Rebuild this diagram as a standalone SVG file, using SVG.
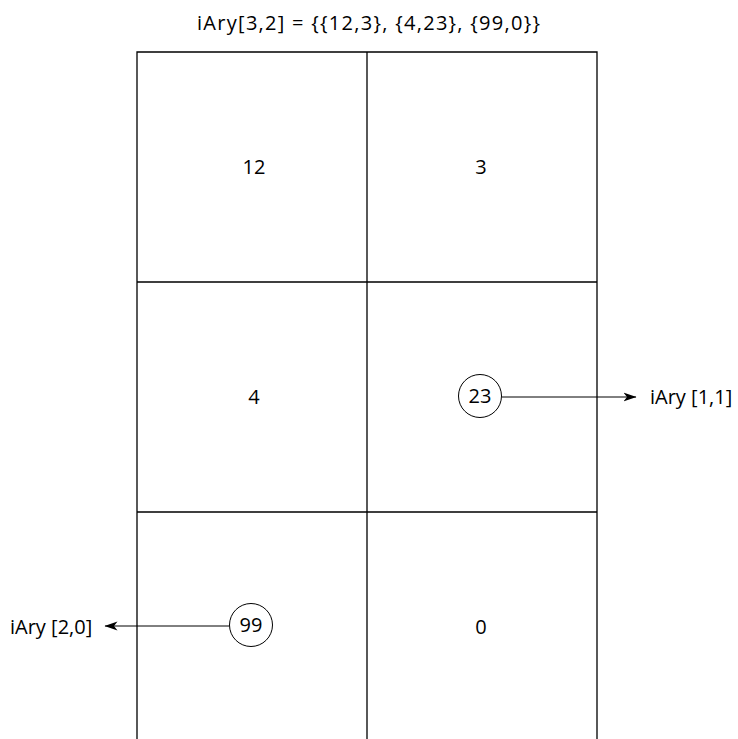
<svg xmlns="http://www.w3.org/2000/svg" width="738" height="739" viewBox="0 0 738 739">
<defs>
<style>
.t{font-family:"Open Sans","Liberation Sans",sans-serif;font-size:20px;fill:#000}
.g{stroke:#000;stroke-width:1.3;fill:none}
.c{stroke:#000;stroke-width:1;fill:#fff}
.e{stroke:#000;stroke-width:1;fill:none}
</style>
<marker id="ah" markerWidth="14" markerHeight="10" refX="12.5" refY="5" orient="auto" markerUnits="userSpaceOnUse">
<path d="M0,0.5 L13,5 L0,9.5 L3.5,5 Z" fill="#000"/>
</marker>
</defs>
<rect width="738" height="739" fill="#fff"/>
<g id="title"><text class="t" x="197" y="30" font-size="19" textLength="343" lengthAdjust="spacing">iAry[3,2] = {{12,3}, {4,23}, {99,0}}</text></g>
<g id="grid">
<path class="g" d="M137,739 V52 H597 V739 M367,52 V739 M137,282 H597 M137,512 H597"/>
</g>
<g id="cell-12"><text class="t" x="254" y="174" text-anchor="middle">12</text></g>
<g id="cell-3"><text class="t" x="481" y="174" text-anchor="middle">3</text></g>
<g id="cell-4"><text class="t" x="254" y="404" text-anchor="middle">4</text></g>
<g id="cell-0"><text class="t" x="481" y="634" text-anchor="middle">0</text></g>
<g id="connectors">
<line class="e" x1="502" y1="397" x2="636" y2="397" marker-end="url(#ah)"/>
<line class="e" x1="229" y1="626" x2="105" y2="626" marker-end="url(#ah)"/>
</g>
<g id="node-23"><circle class="c" cx="480" cy="396" r="21.5"/><text class="t" x="480" y="403" text-anchor="middle">23</text></g>
<g id="node-99"><circle class="c" cx="251" cy="625" r="21.5"/><text class="t" x="251" y="632" text-anchor="middle">99</text></g>
<g id="label-11"><text class="t" x="650" y="404">iAry [1,1]</text></g>
<g id="label-20"><text class="t" x="10" y="634">iAry [2,0]</text></g>
</svg>
